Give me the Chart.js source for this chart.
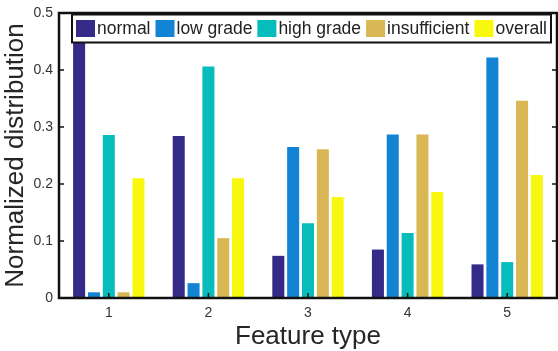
<!DOCTYPE html>
<html>
<head>
<meta charset="utf-8">
<script src="https://cdn.jsdelivr.net/npm/chart.js@4.4.1/dist/chart.umd.min.js"></script>
<style>
  html, body { margin: 0; padding: 0; background: #fff; }
  #wrap { width: 558px; height: 351px; }
</style>
</head>
<body>
<div id="wrap"><canvas id="bar-chart"></canvas></div>
<script>
// values
var featureTypes = ["1", "2", "3", "4", "5"];
var normal      = [0.53, 0.284, 0.074, 0.085, 0.059];
var lowGrade    = [0.010, 0.026, 0.265, 0.287, 0.422];
var highGrade   = [0.286, 0.406, 0.131, 0.114, 0.063];
var insufficient= [0.010, 0.105, 0.261, 0.287, 0.346];
var overall     = [0.210, 0.210, 0.177, 0.186, 0.216];
var yTicks = [0, 0.1, 0.2, 0.3, 0.4, 0.5];

var FONT = "'Liberation Sans', Arial, sans-serif";

// draws the framed box, inner ticks and the legend inside the plot
var frameAndLegend = {
    id: 'frameAndLegend',
    afterDraw: function (chart) {
        var ctx = chart.ctx;
        var a = chart.chartArea;
        var xs = chart.scales.x, ys = chart.scales.y;
        ctx.save();
        ctx.strokeStyle = '#111';
        ctx.lineWidth = 1.5;
        // inner tick marks
        ctx.beginPath();
        for (var i = 0; i < featureTypes.length; i++) {
            var px = xs.getPixelForTick(i);
            ctx.moveTo(px, a.bottom); ctx.lineTo(px, a.bottom - 5);
            ctx.moveTo(px, a.top); ctx.lineTo(px, a.top + 5);
        }
        yTicks.forEach(function (v) {
            var py = ys.getPixelForValue(v);
            ctx.moveTo(a.left, py); ctx.lineTo(a.left + 5, py);
            ctx.moveTo(a.right, py); ctx.lineTo(a.right - 5, py);
        });
        ctx.stroke();
        // box
        ctx.lineWidth = 2.5;
        ctx.strokeRect(a.left, a.top, a.right - a.left, a.bottom - a.top);

        // legend
        ctx.font = '17.5px ' + FONT;
        var sw = 19, sh = 17, gapT = 2, gapN = 5, pad = 4;
        var total = pad * 2 - gapN;
        chart.data.datasets.forEach(function (ds) {
            total += sw + gapT + ctx.measureText(ds.label).width + gapN;
        });
        var bx = a.right - 6 - total, by = 14.5, bh = 28;
        ctx.fillStyle = '#fff';
        ctx.fillRect(bx, by, total, bh);
        ctx.lineWidth = 2;
        ctx.strokeStyle = '#111';
        ctx.strokeRect(bx, by, total, bh);
        var x = bx + pad;
        ctx.textBaseline = 'middle';
        ctx.textAlign = 'left';
        chart.data.datasets.forEach(function (ds) {
            ctx.fillStyle = ds.backgroundColor;
            ctx.fillRect(x, by + (bh - sh) / 2, sw, sh);
            x += sw + gapT;
            ctx.fillStyle = '#222';
            ctx.fillText(ds.label, x, by + bh / 2 + 1);
            x += ctx.measureText(ds.label).width + gapN;
        });
        ctx.restore();
    }
};

new Chart(document.getElementById("bar-chart"), {
    type: 'bar',
    data: {
        labels: featureTypes,
        datasets: [
            { label: 'normal', data: normal, backgroundColor: '#352a87' },
            { label: 'low grade', data: lowGrade, backgroundColor: '#1383d4' },
            { label: 'high grade', data: highGrade, backgroundColor: '#06bdbb' },
            { label: 'insufficient', data: insufficient, backgroundColor: '#d9b755' },
            { label: 'overall', data: overall, backgroundColor: '#f8f80f' }
        ]
    },
    options: {
        responsive: true,
        maintainAspectRatio: false,
        animation: false,
        categoryPercentage: 0.745,
        barPercentage: 0.81,
        layout: { padding: { top: 0, right: 1, left: 0, bottom: 0 } },
        plugins: {
            legend: { display: false },
            tooltip: { enabled: false }
        },
        scales: {
            x: {
                grid: { display: false, drawTicks: false },
                border: { display: false },
                ticks: { color: '#333', font: { family: FONT, size: 14 }, padding: 7 },
                title: {
                    display: true,
                    text: 'Feature type',
                    color: '#262626',
                    font: { family: FONT, size: 26, lineHeight: 1 },
                    padding: { top: 0, bottom: 1 }
                },
                afterFit: function (s) { s.height = 53; }
            },
            y: {
                min: 0,
                max: 0.5,
                grid: { display: false, drawTicks: false },
                border: { display: false },
                ticks: {
                    stepSize: 0.1,
                    color: '#333',
                    font: { family: FONT, size: 14, lineHeight: 1 },
                    padding: 6
                },
                title: {
                    display: true,
                    text: 'Normalized distribution',
                    color: '#262626',
                    font: { family: FONT, size: 26, lineHeight: 1 },
                    padding: { top: 3, bottom: 0 }
                },
                afterFit: function (s) { s.width = 59; }
            }
        }
    },
    plugins: [frameAndLegend]
});
</script>
</body>
</html>
